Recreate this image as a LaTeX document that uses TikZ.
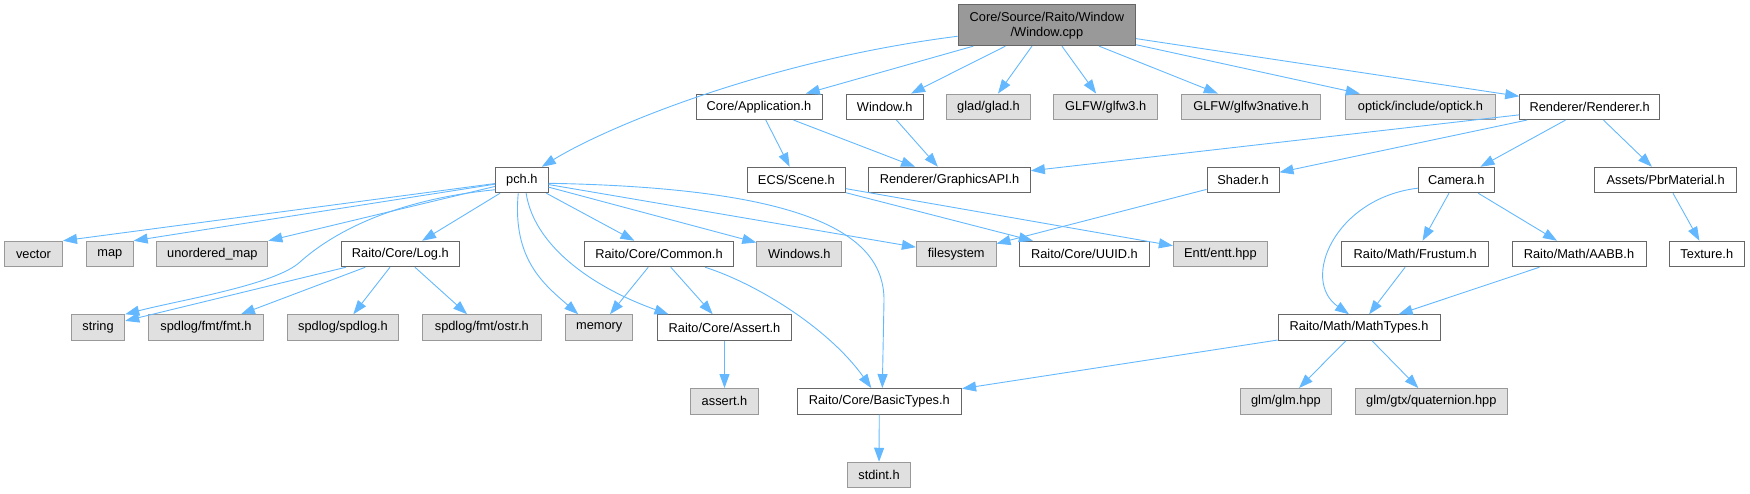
\documentclass[tikz,border=0pt]{standalone}
\usepackage{fontspec}
\setmainfont{Liberation Sans}
\usetikzlibrary{arrows.meta}
\definecolor{edgec}{HTML}{63B8FF}
\definecolor{borderw}{HTML}{666666}
\definecolor{borderg}{HTML}{999999}
\definecolor{fillg}{HTML}{E0E0E0}
\definecolor{fillroot}{HTML}{999999}
\begin{document}
\begin{tikzpicture}[x=1pt,y=-1pt,
  base/.style={rectangle, inner sep=0pt, minimum height=25.5pt, font=\fontsize{12.8}{15}\selectfont, line width=1pt, text=black},
  intn/.style={base, draw=borderw, fill=white},
  extn/.style={base, draw=borderg, fill=fillg},
  rootn/.style={base, draw=borderw, fill=fillroot, minimum height=40.7pt, align=center},
  edge/.style={draw=edgec, line width=0.9pt, -{Triangle[length=14pt,width=10pt]}}
]
\useasboundingbox (0,0) rectangle (1750,493);
% row 1
\node[rootn, minimum width=177.5pt] (root) at (1046.9,25.3) {Core/Source/Raito/Window\\/Window.cpp};
% row 2
\node[intn, minimum width=126pt] (app) at (759,106.8) {Core/Application.h};
\node[intn, minimum width=77pt] (winh) at (884.7,106.8) {Window.h};
\node[extn, minimum width=84pt] (glad) at (988.5,106.8) {glad/glad.h};
\node[extn, minimum width=104pt] (glfw) at (1105.7,106.8) {GLFW/glfw3.h};
\node[extn, minimum width=139pt] (glfwn) at (1251,106.8) {GLFW/glfw3native.h};
\node[extn, minimum width=150pt] (optick) at (1420.5,106.8) {optick/include/optick.h};
\node[intn, minimum width=140pt] (renderer) at (1589.7,106.8) {Renderer/Renderer.h};
% row 3
\node[intn, minimum width=52.5pt] (pch) at (521.8,180) {pch.h};
\node[intn, minimum width=98pt] (scene) at (796.4,180) {ECS/Scene.h};
\node[intn, minimum width=161.5pt] (gapi) at (949.6,180) {Renderer/GraphicsAPI.h};
\node[intn, minimum width=72pt] (shader) at (1243,180) {Shader.h};
\node[intn, minimum width=76pt] (camera) at (1456.3,180) {Camera.h};
\node[intn, minimum width=142.7pt] (pbr) at (1665.6,180) {Assets/PbrMaterial.h};
% row 4
\node[extn, minimum width=58pt] (vector) at (33.5,254) {vector};
\node[extn, minimum width=46.7pt] (map) at (109.8,254) {map};
\node[extn, minimum width=111pt] (umap) at (212.4,254) {unordered\_map};
\node[intn, minimum width=118.6pt] (log) at (400.3,254) {Raito/Core/Log.h};
\node[intn, minimum width=149pt] (common) at (659,254) {Raito/Core/Common.h};
\node[extn, minimum width=85pt] (windows) at (799.3,254) {Windows.h};
\node[extn, minimum width=79.6pt] (fs) at (956.2,254) {filesystem};
\node[intn, minimum width=130pt] (uuid) at (1084.4,254) {Raito/Core/UUID.h};
\node[extn, minimum width=94pt] (entt) at (1220.4,254) {Entt/entt.hpp};
\node[intn, minimum width=147pt] (frustum) at (1415.2,254) {Raito/Math/Frustum.h};
\node[intn, minimum width=134pt] (aabb) at (1579,254) {Raito/Math/AABB.h};
\node[intn, minimum width=75pt] (texture) at (1706.8,254) {Texture.h};
% row 5
\node[extn, minimum width=53.5pt] (string) at (98,327.5) {string};
\node[extn, minimum width=115.6pt] (fmt) at (205.9,327.5) {spdlog/fmt/fmt.h};
\node[extn, minimum width=111pt] (spdlog) at (343,327.5) {spdlog/spdlog.h};
\node[extn, minimum width=118.6pt] (ostr) at (481.8,327.5) {spdlog/fmt/ostr.h};
\node[extn, minimum width=67pt] (memory) at (599.2,327.5) {memory};
\node[intn, minimum width=134.3pt] (assert) at (724.5,327.5) {Raito/Core/Assert.h};
\node[intn, minimum width=162pt] (mathtypes) at (1359,327.5) {Raito/Math/MathTypes.h};
% row 6
\node[extn, minimum width=67.7pt] (asserth) at (724.5,401.3) {assert.h};
\node[intn, minimum width=164.5pt] (basic) at (879.3,401.3) {Raito/Core/BasicTypes.h};
\node[extn, minimum width=91.8pt] (glm) at (1285.9,401.3) {glm/glm.hpp};
\node[extn, minimum width=151.5pt] (quat) at (1431.3,401.3) {glm/gtx/quaternion.hpp};
% row 7
\node[extn, minimum width=63pt] (stdint) at (879,475) {stdint.h};

% edges from root
\draw[edge] (root.187) .. controls (770,60) and (610,125) .. ([xshift=20pt]pch.north);
\draw[edge] (root) -- (app);
\draw[edge] (root) -- (winh);
\draw[edge] (root) -- (glad);
\draw[edge] (root) -- (glfw);
\draw[edge] (root) -- (glfwn);
\draw[edge] (root) -- (optick);
\draw[edge] (root) -- (renderer);
% row 2 edges
\draw[edge] (app) -- (scene);
\draw[edge] (app) -- (gapi);
\draw[edge] (winh) -- (gapi);
\draw[edge] (renderer) -- (gapi);
\draw[edge] (renderer) -- (shader);
\draw[edge] (renderer) -- (camera);
\draw[edge] (renderer) -- (pbr);
% row 3 edges
\draw[edge] (pch) -- (vector.north east);
\draw[edge] (pch) -- (map.north east);
\draw[edge] (pch) -- (umap.north east);
\draw[edge] (pch.200) .. controls (390,200) and (330,235) .. (300,262) .. controls (275,285) and (180,300) .. (string.north east);
\draw[edge] (pch) -- (log);
\draw[edge] (pch.255) .. controls (512,260) and (545,285) .. ([xshift=-21pt]memory.north);
\draw[edge] (pch.288) .. controls (535,250) and (600,290) .. ([xshift=-56pt]assert.north);
\draw[edge] (pch) -- (common);
\draw[edge] (pch) -- (windows);
\draw[edge] (pch) -- (fs);
\draw[edge] (pch.353) .. controls (810,188) and (884,235) .. (884,300) -- ([xshift=3pt]basic.north);
\draw[edge] (scene) -- (uuid);
\draw[edge] (scene) -- (entt);
\draw[edge] (shader) -- (fs);
\draw[edge] (camera.192) .. controls (1335,198) and (1300,280) .. ([xshift=-10pt]mathtypes.north);
\draw[edge] (camera) -- (frustum);
\draw[edge] (camera) -- (aabb);
\draw[edge] (pbr) -- (texture);
% row 4 edges
\draw[edge] (log) -- (string);
\draw[edge] (log) -- (fmt);
\draw[edge] (log) -- (spdlog);
\draw[edge] (log) -- (ostr);
\draw[edge] (common) -- (memory);
\draw[edge] (common) -- (assert);
\draw[edge] (common.-16) .. controls (760,285) and (830,330) .. ([xshift=-8pt]basic.north);
\draw[edge] (frustum) -- (mathtypes);
\draw[edge] (aabb) -- (mathtypes);
% row 5 edges
\draw[edge] (assert) -- (asserth);
\draw[edge] (mathtypes) -- (basic);
\draw[edge] (mathtypes) -- (glm);
\draw[edge] (mathtypes) -- (quat);
% row 6 edges
\draw[edge] (basic) -- (stdint);
\end{tikzpicture}
\end{document}
